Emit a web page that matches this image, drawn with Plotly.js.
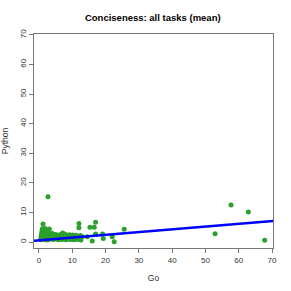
<!DOCTYPE html>
<html><head><meta charset="utf-8">
<script src="https://cdn.plot.ly/plotly-3.0.1.min.js"></script>
<style>html,body{margin:0;padding:0;background:#fff}</style>
</head><body>
<div id="chart" style="width:291px;height:291px"></div>
<script>
// Go (x) vs Python (y) conciseness, per task mean
const goValues = [0.5,0.6,0.7,0.8,0.9,1.0,1.1,1.2,1.3,1.4,1.5,1.6,1.7,1.8,1.9,2.0,2.1,2.2,2.3,2.4,2.5,2.6,2.7,2.8,2.9,3.0,3.1,3.3,3.5,3.7,3.9,4.1,4.3,4.5,4.7,4.9,5.1,5.3,5.5,5.7,5.9,6.1,6.3,6.5,6.7,6.9,7.1,7.3,7.5,7.7,7.9,8.1,8.3,8.5,8.7,8.9,9.1,9.3,9.5,9.7,9.9,10.1,10.3,10.5,10.7,10.9,11.1,11.3,11.5,11.7,12.0,12.0,12.2,12.4,12.6,13.0,14.5,15.3,16.0,16.6,17.0,17.0,19.1,19.3,22.0,22.6,25.6,52.9,57.7,62.9,67.8];
const pythonValues = [0.8,1.5,2.2,3.0,3.8,4.5,1.0,6.1,2.6,4.0,1.8,3.3,0.9,4.6,2.2,1.4,3.0,0.7,4.2,2.5,1.2,3.6,15.3,1.9,0.8,2.8,4.4,1.5,2.3,1.1,3.0,1.7,0.9,2.2,1.3,2.6,1.0,1.9,2.4,1.4,0.8,2.0,1.2,2.6,1.7,0.9,3.1,2.2,1.3,2.7,1.8,0.8,2.3,1.4,2.0,1.0,2.5,1.6,0.9,2.1,1.3,2.4,1.7,0.8,2.0,1.2,2.3,1.5,0.9,1.9,6.3,4.8,1.2,2.2,0.7,1.8,1.8,5.0,0.4,5.0,6.7,2.7,2.7,1.2,1.8,0.1,4.3,2.8,12.5,10.2,0.6];
const fitIntercept = 0.6;
const fitSlope = 0.093;
const xTicks = [0,10,20,30,40,50,60,70];
const yTicks = [0,10,20,30,40,50,60,70];
const xRange = [-1.5, 70.3];
const yRange = [-2.0, 70.3];

const fitX = xRange.slice();
const fitY = fitX.map(v => fitIntercept + fitSlope * v);

const traces = [
  {x: goValues, y: pythonValues, type: 'scatter', mode: 'markers',
   marker: {color: '#2ca02c', size: 5}, hoverinfo: 'skip'},
  {x: fitX, y: fitY, type: 'scatter', mode: 'lines',
   line: {color: '#0000ff', width: 2.5}, hoverinfo: 'skip'}
];

const axisCommon = {
  showgrid: false, zeroline: false, showline: true, mirror: true,
  linecolor: '#777', linewidth: 1, ticks: 'outside', ticklen: 4,
  tickcolor: '#777', tickwidth: 1,
  tickfont: {family: 'Liberation Sans, Arial, sans-serif', size: 8, color: '#333'}
};

const layout = {
  width: 291, height: 291,
  margin: {l: 34, r: 18, t: 34, b: 43},
  paper_bgcolor: '#fff', plot_bgcolor: '#fff',
  showlegend: false,
  title: {text: '<b>Conciseness: all tasks (mean)</b>', x: 0.525, xanchor: 'center', y: 0.94, yanchor: 'middle',
          font: {family: 'Liberation Sans, Arial, sans-serif', size: 9.5, color: '#000'}},
  xaxis: Object.assign({}, axisCommon, {range: xRange, tickvals: xTicks,
    title: {text: 'Go', standoff: 11, font: {family: 'Liberation Sans, Arial, sans-serif', size: 8.5, color: '#333'}}}),
  yaxis: Object.assign({}, axisCommon, {range: yRange, tickvals: yTicks, tickangle: -90,
    title: {text: 'Python', standoff: 8, font: {family: 'Liberation Sans, Arial, sans-serif', size: 8.5, color: '#333'}}})
};

Plotly.newPlot('chart', traces, layout, {staticPlot: true, displayModeBar: false});
</script>
</body></html>
